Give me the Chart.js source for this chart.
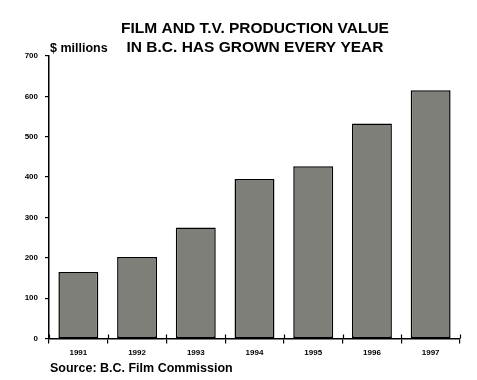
<!DOCTYPE html>
<html>
<head>
<meta charset="utf-8">
<script src="https://cdn.jsdelivr.net/npm/chart.js@4.4.1/dist/chart.umd.min.js"></script>
<style>
html,body{margin:0;padding:0;background:#fff;}
#wrap{position:relative;width:477px;height:380px;}
</style>
</head>
<body>
<div id="wrap"><canvas id="c" width="477" height="380"></canvas></div>
<script>
const titleLines = ["FILM AND T.V. PRODUCTION VALUE", "IN B.C. HAS GROWN EVERY YEAR"];
const unitLabel = "$ millions";
const sourceLabel = "Source: B.C. Film Commission";
const years = ["1991", "1992", "1993", "1994", "1995", "1996", "1997"];
const values = [165, 202, 275, 395, 427, 533, 615];
const yTicks = [0, 100, 200, 300, 400, 500, 600, 700];

const FONT = "'Liberation Sans', Arial, Helvetica, sans-serif";

const textPlugin = {
  id: 'texts',
  afterDraw(chart) {
    const ctx = chart.ctx;
    ctx.save();
    ctx.fillStyle = '#000';
    ctx.textBaseline = 'alphabetic';
    ctx.font = 'bold 15.5px ' + FONT;
    ctx.textAlign = 'center';
    ctx.fillText(titleLines[0], 255, 33);
    ctx.fillText(titleLines[1], 255, 52);
    ctx.textAlign = 'left';
    ctx.font = 'bold 12.5px ' + FONT;
    ctx.fillText(unitLabel, 50, 52);
    ctx.fillText(sourceLabel, 50, 372);
    // x tick marks crossing above the axis
    const xs = chart.scales.x, ys = chart.scales.y;
    const y0 = ys.getPixelForValue(0);
    ctx.strokeStyle = '#000';
    ctx.lineWidth = 1.2;
    ctx.beginPath();
    for (let i = 0; i <= years.length; i++) {
      const x = Math.round(xs.left + (xs.right - xs.left) * i / years.length) + 0.5;
      ctx.moveTo(x, y0 - 4);
      ctx.lineTo(x, y0);
    }
    ctx.stroke();
    ctx.restore();
  }
};

new Chart(document.getElementById('c'), {
  type: 'bar',
  data: {
    labels: years,
    datasets: [{
      data: values,
      backgroundColor: '#7f7f79',
      borderColor: '#000',
      borderWidth: 1.5,
      borderSkipped: false,
      categoryPercentage: 1,
      barPercentage: 0.68
    }]
  },
  options: {
    responsive: false,
    animation: false,
    devicePixelRatio: 1,
    layout: { padding: { top: 56, right: 17, left: 0, bottom: 0 } },
    plugins: { legend: { display: false }, tooltip: { enabled: false }, title: { display: false } },
    scales: {
      x: {
        offset: true,
        grid: { offset: true, drawOnChartArea: false, drawTicks: true, tickLength: 5, color: '#000', lineWidth: 1.2 },
        border: { color: '#000', width: 1.5 },
        ticks: { color: '#000', font: { family: FONT, size: 8, weight: 'bold' }, padding: 4, maxRotation: 0 },
        afterFit(scale) { scale.height = 41.5; }
      },
      y: {
        min: 0, max: 700,
        afterBuildTicks(scale) { scale.ticks = yTicks.map(v => ({ value: v })); },
        grid: { drawOnChartArea: false, drawTicks: true, tickLength: 4, color: '#000', lineWidth: 1.2 },
        border: { color: '#000', width: 1.5 },
        ticks: { color: '#000', font: { family: FONT, size: 8, weight: 'bold' }, padding: 7 },
        afterFit(scale) { scale.width = 49; }
      }
    }
  },
  plugins: [textPlugin]
});
</script>
</body>
</html>
